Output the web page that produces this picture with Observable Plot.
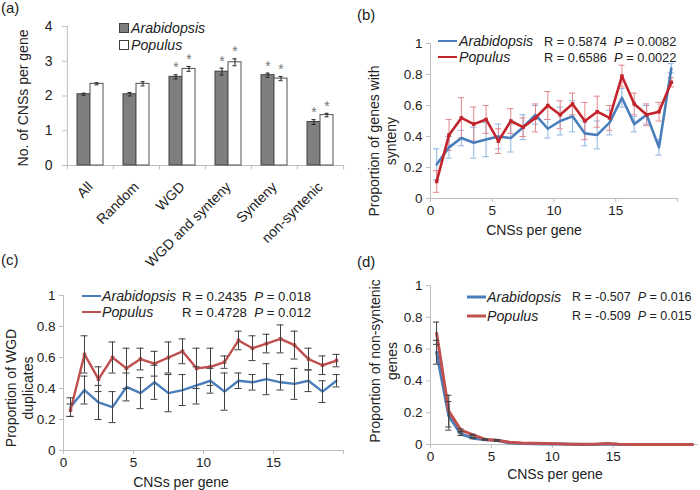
<!DOCTYPE html>
<html>
<head>
<meta charset="utf-8">
<script src="https://cdn.jsdelivr.net/npm/d3@7"></script>
<script src="https://cdn.jsdelivr.net/npm/@observablehq/plot@0.6"></script>
<style>
  html, body { margin: 0; padding: 0; background: #fff; }
  body { width: 700px; height: 490px; position: relative; overflow: hidden;
         font-family: 'Liberation Sans', Arial, sans-serif; color: #222; }
  .panel { position: absolute; width: 350px; height: 245px; }
  .panel svg { overflow: visible; }
  .panel svg g[aria-label*="axis"] line, .panel svg g[aria-label*="axis"] path { stroke: #bfbfbf !important; }
  .t { position: absolute; white-space: pre; line-height: 1; }
  .lab { font-size: 15px; }
  .vt { position: absolute; transform: translate(-50%, -50%) rotate(-90deg); white-space: nowrap;
        text-align: center; font-size: 14px; line-height: 17px; }
  .ht { position: absolute; transform: translate(-50%, -50%); white-space: nowrap; font-size: 14px; }
  .leg { position: absolute; font-size: 14.2px; font-style: italic; transform: translateY(-50%); white-space: nowrap; }
  .stat { position: absolute; transform: translateY(-50%); white-space: pre; }
  .stat i { font-style: italic; }
  .ln { position: absolute; height: 0; transform: translateY(-50%); }
  .sq { position: absolute; width: 8px; height: 8px; transform: translateY(-50%); border: 1px solid #404040; }
</style>
</head>
<body>
<div id="pa" class="panel" style="left:0;top:0"></div>
<div id="pb" class="panel" style="left:350px;top:0"></div>
<div id="pc" class="panel" style="left:0;top:245px"></div>
<div id="pd" class="panel" style="left:350px;top:245px"></div>

<!-- panel labels -->
<div class="t lab" style="left:1px;top:0px">(a)</div>
<div class="t lab" style="left:357px;top:7px">(b)</div>
<div class="t lab" style="left:1px;top:252px">(c)</div>
<div class="t lab" style="left:357px;top:254px">(d)</div>

<!-- axis titles -->
<div class="vt" style="left:23px;top:98px">No. of CNSs per gene</div>
<div class="vt" style="left:383px;top:141px">Proportion of genes with<br>synteny</div>
<div class="vt" style="left:20px;top:388px">Proportion of WGD<br>duplicates</div>
<div class="vt" style="left:384px;top:361px">Proportion of non-syntenic<br>genes</div>
<div class="ht" style="left:534px;top:230px">CNSs per gene</div>
<div class="ht" style="left:181px;top:482px">CNSs per gene</div>
<div class="ht" style="left:555px;top:474px">CNSs per gene</div>

<!-- legend (a) -->
<div class="sq" style="left:119px;top:28px;background:#7f7f7f"></div>
<div class="leg" style="left:131px;top:28px">Arabidopsis</div>
<div class="sq" style="left:119px;top:45px;background:#fff"></div>
<div class="leg" style="left:131px;top:45px">Populus</div>

<!-- legend (b) -->
<div class="ln" style="left:438px;top:41px;width:19px;border-top:2.5px solid #4a7ebb"></div>
<div class="leg" style="left:459px;top:41px">Arabidopsis</div>
<div class="stat" style="left:544px;top:41px;font-size:12.8px">R = 0.5874  <i>P</i> = 0.0082</div>
<div class="ln" style="left:438px;top:57px;width:19px;border-top:2.5px solid #c3242b"></div>
<div class="leg" style="left:459px;top:57px">Populus</div>
<div class="stat" style="left:544px;top:57px;font-size:12.8px">R = 0.6586  <i>P</i> = 0.0022</div>

<!-- legend (c) -->
<div class="ln" style="left:82px;top:296px;width:19px;border-top:2.5px solid #4a7ebb"></div>
<div class="leg" style="left:102px;top:296px">Arabidopsis</div>
<div class="stat" style="left:182px;top:296px;font-size:13.2px">R = 0.2435  <i>P</i> = 0.018</div>
<div class="ln" style="left:82px;top:312px;width:19px;border-top:2.5px solid #c0504d"></div>
<div class="leg" style="left:102px;top:312px">Populus</div>
<div class="stat" style="left:182px;top:312px;font-size:13.2px">R = 0.4728  <i>P</i> = 0.012</div>

<!-- legend (d) -->
<div class="ln" style="left:467px;top:297px;width:19px;border-top:3px solid #4a7ebb"></div>
<div class="leg" style="left:487px;top:297px">Arabidopsis</div>
<div class="stat" style="left:572px;top:297px;font-size:12.5px">R = -0.507  <i>P</i> = 0.016</div>
<div class="ln" style="left:467px;top:316px;width:19px;border-top:3px solid #c0504d"></div>
<div class="leg" style="left:487px;top:316px">Populus</div>
<div class="stat" style="left:572px;top:316px;font-size:12.5px">R = -0.509  <i>P</i> = 0.015</div>

<script>
// ---------- data ----------
// (a) mean CNSs per gene
const categories = ["All", "Random", "WGD", "WGD and synteny", "Synteny", "non-syntenic"];
const species = ["Arabidopsis", "Populus"];
const aArab    = [2.05, 2.05, 2.55, 2.70, 2.60, 1.25];
const aArabErr = [0.03, 0.05, 0.06, 0.10, 0.06, 0.07];
const aPop     = [2.35, 2.35, 2.78, 2.97, 2.50, 1.45];
const aPopErr  = [0.03, 0.06, 0.07, 0.10, 0.06, 0.05];
const aArabSig = [false, false, true, true, true, true];
const aPopSig  = [false, false, true, true, true, true];
const aTicks   = [0, 1, 2, 3, 4];

// CNS-per-gene bins
const bins20 = [0.5, 1.5, 2.5, 3.5, 4.5, 5.5, 6.5, 7.5, 8.5, 9.5, 10.5, 11.5, 12.5, 13.5, 14.5, 15.5, 16.5, 17.5, 18.5, 19.5];
const bins22 = [0.5, 1.5, 2.5, 3.5, 4.5, 5.5, 6.5, 7.5, 8.5, 9.5, 10.5, 11.5, 12.5, 13.5, 14.5, 15.5, 16.5, 17.5, 18.5, 19.5, 20.5, 21.5];
const propTicks = [0, 0.2, 0.4, 0.6, 0.8, 1];

// (b) proportion of genes with synteny
const bArab    = [0.22, 0.33, 0.39, 0.36, 0.38, 0.40, 0.39, 0.46, 0.54, 0.45, 0.50, 0.53, 0.42, 0.41, 0.49, 0.65, 0.48, 0.54, 0.33, 0.84];
const bArabErr = [0.10, 0.07, 0.05, 0.10, 0.11, 0.08, 0.09, 0.08, 0.06, 0.06, 0.09, 0.10, 0.08, 0.09, 0.08, 0.06, 0.05, 0.06, 0.05, 0.03];
const bPop     = [0.11, 0.41, 0.52, 0.48, 0.51, 0.37, 0.50, 0.46, 0.52, 0.60, 0.54, 0.61, 0.50, 0.56, 0.52, 0.79, 0.61, 0.54, 0.56, 0.75];
const bPopErr  = [0.07, 0.10, 0.13, 0.11, 0.09, 0.08, 0.08, 0.06, 0.09, 0.09, 0.09, 0.07, 0.12, 0.10, 0.08, 0.07, 0.07, 0.07, 0.06, 0.03];

// (c) proportion of WGD duplicates
const cArab    = [0.28, 0.39, 0.31, 0.28, 0.41, 0.37, 0.44, 0.37, 0.39, 0.42, 0.45, 0.38, 0.45, 0.44, 0.46, 0.44, 0.43, 0.45, 0.38, 0.45];
const cArabErr = [0.06, 0.09, 0.11, 0.10, 0.09, 0.10, 0.11, 0.12, 0.10, 0.12, 0.08, 0.12, 0.05, 0.05, 0.10, 0.05, 0.10, 0.07, 0.07, 0.04];
const cPop     = [0.26, 0.62, 0.46, 0.60, 0.53, 0.59, 0.56, 0.60, 0.64, 0.53, 0.54, 0.57, 0.71, 0.66, 0.69, 0.72, 0.68, 0.59, 0.55, 0.58];
const cPopErr  = [0.04, 0.12, 0.08, 0.10, 0.13, 0.07, 0.08, 0.10, 0.08, 0.13, 0.12, 0.04, 0.06, 0.08, 0.06, 0.09, 0.09, 0.07, 0.06, 0.04];

// (d) proportion of non-syntenic genes
const dArab    = [0.58, 0.18, 0.065, 0.04, 0.03, 0.025, 0.01, 0.006, 0.005, 0.003, 0.003, 0.001, 0, 0, 0.003, 0, 0, 0, 0, 0, 0, 0];
const dArabErr = [0.075, 0.09, 0.008, 0.004, 0.003, 0.005, 0, 0, 0, 0, 0, 0, 0, 0, 0, 0, 0, 0, 0, 0, 0, 0];
const dPop     = [0.70, 0.21, 0.09, 0.06, 0.032, 0.027, 0.014, 0.009, 0.008, 0.006, 0.005, 0.002, 0.001, 0.001, 0.006, 0.001, 0, 0, 0, 0, 0, 0];
const dPopErr  = [0.07, 0.10, 0.008, 0.004, 0.003, 0.004, 0, 0, 0, 0, 0, 0, 0, 0, 0, 0, 0, 0, 0, 0, 0, 0];

// ---------- common ----------
const baseStyle = {fontFamily: "'Liberation Sans', Arial, sans-serif", fontSize: "13.5px", color: "#222", background: "transparent", overflow: "visible"};
const axisGrey = "#bfbfbf";

// ---------- (a) grouped bars ----------
const bars = categories.flatMap((c, i) => [
  {cat: c, sp: species[0], v: aArab[i], e: aArabErr[i], sig: aArabSig[i]},
  {cat: c, sp: species[1], v: aPop[i], e: aPopErr[i], sig: aPopSig[i]}
]);

const A_W = 350, A_ML = 65, A_MR = 5, A_OUTER = 0.73;
const cellW = (A_W - A_ML - A_MR) / categories.length;
const bandStep = cellW / (species.length + 2 * A_OUTER);
const edgeOffset = bandStep * A_OUTER + bandStep / 2;   // from first/last band centre to cell edge

const chartA = Plot.plot({
  width: A_W, height: 245,
  marginLeft: A_ML, marginRight: A_MR, marginTop: 26, marginBottom: 80,
  style: {...baseStyle, fontSize: "14px"},
  facet: {data: bars, x: "cat"},
  fx: {domain: categories, padding: 0, axis: "bottom", tickRotate: -45, tickSize: 0, tickPadding: 19, label: null},
  x: {domain: species, paddingInner: 0, paddingOuter: A_OUTER, axis: null},
  y: {domain: [0, 4], ticks: aTicks, tickFormat: d => String(d), tickSize: 5, tickPadding: 10, label: null},
  marks: [
    Plot.ruleY([0], {stroke: axisGrey}),
    // y-axis line (first cell's left edge) and category boundary ticks
    Plot.ruleX(bars, {filter: d => d.cat === categories[0] && d.sp === species[0], x: "sp", y1: 0, y2: 4, dx: -edgeOffset, stroke: axisGrey}),
    Plot.ruleX(bars, {filter: d => d.sp === species[0], x: "sp", y1: 0, y2: -0.13, dx: -edgeOffset, stroke: axisGrey}),
    Plot.ruleX(bars, {filter: d => d.cat === categories[categories.length - 1] && d.sp === species[1], x: "sp", y1: 0, y2: -0.13, dx: edgeOffset, stroke: axisGrey}),
    Plot.barY(bars, {filter: d => d.sp === species[0], x: "sp", y: "v", fill: "#7f7f7f", stroke: "#404040", strokeWidth: 1}),
    Plot.barY(bars, {filter: d => d.sp === species[1], x: "sp", y: "v", fill: "#ffffff", stroke: "#505050", strokeWidth: 1}),
    Plot.ruleX(bars, {x: "sp", y1: d => d.v - d.e, y2: d => d.v + d.e, stroke: "#222", strokeWidth: 1}),
    Plot.tickY(bars, {x: "sp", y: d => d.v + d.e, stroke: "#222", insetLeft: 4.5, insetRight: 4.5}),
    Plot.tickY(bars, {x: "sp", y: d => d.v - d.e, stroke: "#222", insetLeft: 4.5, insetRight: 4.5}),
    Plot.text(bars, {filter: d => d.sig, x: "sp", y: d => d.v + d.e, dy: -7, text: d => "*", fill: "#777", fontSize: 14})
  ]
});
document.getElementById("pa").appendChild(chartA);

// ---------- line panels ----------
function linePanel({arab, arabErr, pop, popErr, bins, xMax, xTicks, margins, arabColor, popColor,
                    arabErrColor, popErrColor, lineW, errOnTop, popMarker}) {
  const A = bins.map((x, i) => ({x, v: arab[i], e: arabErr[i]}));
  const P = bins.map((x, i) => ({x, v: pop[i], e: popErr[i]}));
  const cap = 0.25;
  const err = (rows, c) => [
    Plot.ruleX(rows, {filter: d => d.e > 0, x: "x", y1: d => d.v - d.e, y2: d => d.v + d.e, stroke: c, strokeWidth: 1}),
    Plot.ruleY(rows, {filter: d => d.e > 0, y: d => d.v + d.e, x1: d => d.x - cap, x2: d => d.x + cap, stroke: c, strokeWidth: 1}),
    Plot.ruleY(rows, {filter: d => d.e > 0, y: d => d.v - d.e, x1: d => d.x - cap, x2: d => d.x + cap, stroke: c, strokeWidth: 1})
  ];
  const lines = [
    Plot.line(A, {x: "x", y: "v", stroke: arabColor, strokeWidth: lineW}),
    Plot.line(P, {x: "x", y: "v", stroke: popColor, strokeWidth: lineW})
  ];
  const markers = popMarker ? [
    Plot.dot(P, {x: "x", y: "v", symbol: "square", r: 2, fill: popColor, stroke: "none"})
  ] : [];
  const errs = [...err(A, arabErrColor), ...err(P, popErrColor)];
  return Plot.plot({
    width: 350, height: 245, ...margins,
    style: baseStyle,
    x: {domain: [0, xMax], ticks: xTicks, tickFormat: d => d === 20 ? "" : String(d), tickSize: 4, tickPadding: 3, label: null},
    y: {domain: [0, 1], ticks: propTicks, tickFormat: d => (d === 0 || d === 1) ? String(d) : d.toFixed(1),
        tickSize: 4, tickPadding: 4, label: null},
    marks: [
      Plot.ruleY([0], {stroke: axisGrey}),
      Plot.ruleX([0], {stroke: axisGrey}),
      ...(errOnTop ? [] : errs),
      ...lines,
      ...markers,
      ...(errOnTop ? errs : [])
    ]
  });
}

document.getElementById("pb").appendChild(linePanel({
  arab: bArab, arabErr: bArabErr, pop: bPop, popErr: bPopErr, bins: bins20, xMax: 20,
  xTicks: [0, 5, 10, 15, 20],
  margins: {marginLeft: 80, marginRight: 23, marginTop: 43, marginBottom: 47},
  arabColor: "#4a7ebb", popColor: "#c3242b", arabErrColor: "#8db3e2", popErrColor: "#e3878b",
  lineW: 2.6, errOnTop: false, popMarker: true
}));

document.getElementById("pc").appendChild(linePanel({
  arab: cArab, arabErr: cArabErr, pop: cPop, popErr: cPopErr, bins: bins20, xMax: 20,
  xTicks: [0, 5, 10, 15, 20],
  margins: {marginLeft: 63, marginRight: 7, marginTop: 50, marginBottom: 40},
  arabColor: "#4a7ebb", popColor: "#c0504d", arabErrColor: "#404040", popErrColor: "#404040",
  lineW: 2.4, errOnTop: true, popMarker: true
}));

document.getElementById("pd").appendChild(linePanel({
  arab: dArab, arabErr: dArabErr, pop: dPop, popErr: dPopErr, bins: bins22, xMax: 22,
  xTicks: [0, 5, 10, 15],
  margins: {marginLeft: 80, marginRight: 2, marginTop: 40, marginBottom: 46},
  arabColor: "#4a7ebb", popColor: "#c0504d", arabErrColor: "#404040", popErrColor: "#404040",
  lineW: 3, errOnTop: true, popMarker: false
}));
</script>
</body>
</html>
